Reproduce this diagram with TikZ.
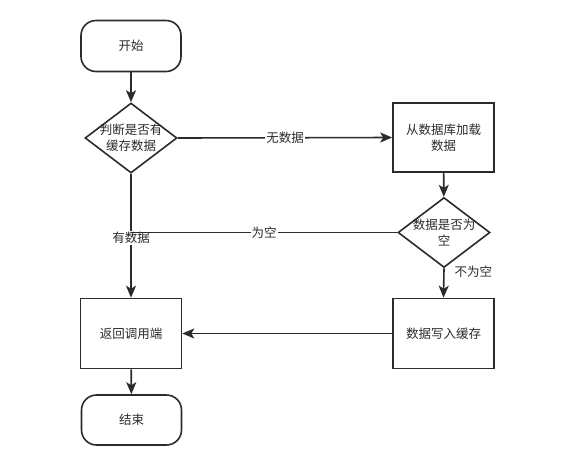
\documentclass[tikz,border=0pt]{standalone}
\usepackage{fontspec}
\newfontfamily\cjk{Noto Sans CJK SC}
\usetikzlibrary{positioning,arrows.meta,shapes.geometric}
\definecolor{linegray}{HTML}{2B2B2B}
\begin{document}
\begin{tikzpicture}[x=1pt, y=-1pt,
    every node/.style={font=\cjk\fontsize{12.5}{16}\selectfont, text=linegray},
    term/.style={draw=linegray, line width=1.6pt, rounded corners=15pt, minimum width=100pt, minimum height=51pt},
    block/.style={draw=linegray, line width=1.6pt, minimum width=101pt, minimum height=70pt, align=center},
    decision/.style={draw=linegray, line width=1.6pt, diamond, minimum width=92pt, minimum height=70pt, inner sep=0pt},
    arr/.style={-{Stealth[length=12pt, width=10pt, inset=3pt]}, line width=1.6pt, draw=linegray},
    conn/.style={line width=1.6pt, draw=linegray},
    lbl/.style={fill=white, inner sep=1pt},
]
\useasboundingbox (0,0) rectangle (576,459);

% === Left column ===
\node[term] (start) at (131, 46) {开始};
\node[decision, label={[align=center]center:判断是否有\\缓存数据}] (cache) at (131, 138) {};
\node[block] (ret) at (131, 333.5) {返回调用端};
\node[term, minimum height=50pt] (stop) at (131.5, 420) {结束};

% === Right column ===
\node[block, minimum height=69pt] (load) at (443.5, 137.5) {从数据库加载\\数据};
\node[decision, label={[align=center]center:数据是否为\\空}] (empty) at (444, 232.5) {};
\node[block] (write) at (443.5, 333.5) {数据写入缓存};

\coordinate (join) at (cache.south |- empty.west);

\draw[arr] (start) -- (cache);
\draw[arr] (cache.east) -- node[lbl] {无数据} (load.west);
\draw[arr] (cache.south) -- node[lbl, pos=0.52] {有数据} (ret.north);
\draw[arr] (load) -- (empty);
\draw[conn] (empty.west) -- node[lbl] {为空} (join);
\draw[arr] (empty.south) -- node[pos=0.13, right, inner sep=0pt, xshift=10pt] {不为空} (write.north);
\draw[arr] (write.west) -- (ret.east);
\draw[arr] (ret) -- (stop);

\end{tikzpicture}
\end{document}
